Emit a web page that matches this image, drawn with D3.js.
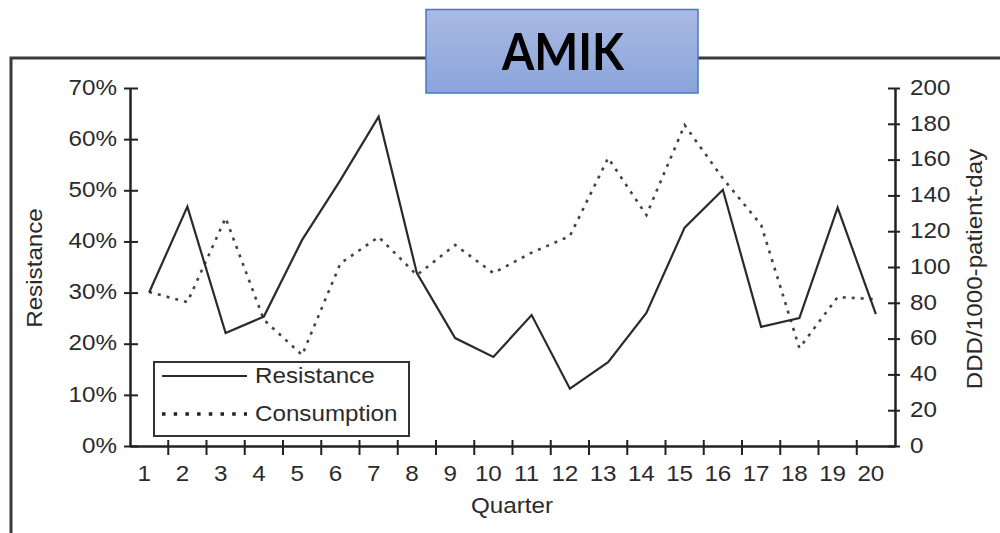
<!DOCTYPE html>
<html>
<head>
<meta charset="utf-8">
<script src="https://cdn.jsdelivr.net/npm/d3@7"></script>
<style>
  html, body { margin: 0; padding: 0; background: #fff; }
  svg { display: block; }
  text { font-family: "Liberation Sans", Arial, sans-serif; }
</style>
</head>
<body>
<svg id="chart" width="1000" height="533"></svg>
<script>
// ---- data ----
const quarters = [1,2,3,4,5,6,7,8,9,10,11,12,13,14,15,16,17,18,19,20];
const resistance = [30, 46.8, 22.1, 25.3, 40.3, 52, 64.4, 33.8, 21.1, 17.4, 25.6, 11.2, 16.4, 26, 42.7, 50.1, 23.3, 25, 46.6, 25.8];
const consumption = [86, 80.4, 127.4, 70.5, 50.8, 102, 116.8, 95.5, 112.3, 96.6, 108, 117.3, 160.9, 129, 179.3, 149.5, 123.5, 54.7, 83.2, 82];
const leftTicks = [0,10,20,30,40,50,60,70];
const rightTicks = [0,20,40,60,80,100,120,140,160,180,200];
const seriesNames = ["Resistance", "Consumption"];
const title = "AMIK";
const xTitle = "Quarter";
const yLeftTitle = "Resistance";
const yRightTitle = "DDD/1000-patient-day";

const svg = d3.select("#chart");
const SX = 1.1; // horizontal text stretch seen in the reference
const txtColor = "#2b2b2b";
const axColor = "#222";

const x = d3.scaleBand().domain(quarters).range([130, 895]).padding(0);
const yL = d3.scaleLinear().domain([0, 70]).range([446, 88]);
const yR = d3.scaleLinear().domain([0, 200]).range([446, 88]);

// frame
svg.append("path")
  .attr("d", "M11,533 L11,58 L1000,58")
  .attr("fill", "none").attr("stroke", "#3a3a3a").attr("stroke-width", 3);

// title box
const defs = svg.append("defs");
const grad = defs.append("linearGradient").attr("id", "tg").attr("x1", 0).attr("y1", 0).attr("x2", 0).attr("y2", 1);
grad.append("stop").attr("offset", "0%").attr("stop-color", "#aabae2");
grad.append("stop").attr("offset", "100%").attr("stop-color", "#8aa4da");
svg.append("rect").attr("x", 426).attr("y", 9.5).attr("width", 272).attr("height", 83.5)
  .attr("fill", "url(#tg)").attr("stroke", "#4a78c8").attr("stroke-width", 1.5);
svg.append("text").attr("x", 563).attr("y", 70).attr("text-anchor", "middle")
  .attr("font-family", "Lato, 'Open Sans', sans-serif").attr("font-weight", "bold")
  .attr("font-size", 51).attr("fill", "#000")
  .attr("textLength", 122).attr("lengthAdjust", "spacingAndGlyphs")
  .style("font-family", "Lato, 'Open Sans', sans-serif")
  .text(title);

// left axis
const gL = svg.append("g").attr("transform", "translate(130,0)")
  .call(d3.axisLeft(yL).tickValues(leftTicks).tickFormat(d => d + "%").tickSizeOuter(0));
gL.select(".domain").attr("stroke", axColor).attr("stroke-width", 2.5);
gL.selectAll(".tick line").attr("x1", -6).attr("x2", 8).attr("stroke", axColor).attr("stroke-width", 2);
gL.selectAll(".tick text").attr("x", 0).attr("dy", "0.33em")
  .attr("transform", `translate(-13,-1) scale(${SX},1)`)
  .attr("font-size", 22).attr("fill", txtColor).attr("font-family", null);

// right axis
const gR = svg.append("g").attr("transform", "translate(895,0)")
  .call(d3.axisRight(yR).tickValues(rightTicks).tickFormat(d3.format("d")).tickSizeOuter(0));
gR.select(".domain").attr("stroke", axColor).attr("stroke-width", 2.5);
gR.selectAll(".tick line").attr("x1", -7).attr("x2", 5).attr("stroke", axColor).attr("stroke-width", 2);
gR.selectAll(".tick text").attr("x", 0).attr("dy", "0.33em")
  .attr("transform", `translate(15,-1) scale(${SX},1)`)
  .attr("font-size", 22).attr("fill", txtColor).attr("font-family", null);

// bottom axis
const gB = svg.append("g").attr("transform", "translate(0,446)")
  .call(d3.axisBottom(x).tickSize(0).tickSizeOuter(0));
gB.select(".domain").attr("stroke", axColor).attr("stroke-width", 2.5);
gB.selectAll(".tick text").attr("y", 0).attr("dy", 0)
  .attr("transform", `translate(-5,35) scale(${SX},1)`)
  .attr("font-size", 22).attr("fill", txtColor).attr("font-family", null);
gB.selectAll(".boundary").data(quarters.slice(1)).enter().append("line")
  .attr("class", "boundary")
  .attr("x1", d => x(d)).attr("x2", d => x(d))
  .attr("y1", -6).attr("y2", 9)
  .attr("stroke", axColor).attr("stroke-width", 2);

// axis titles
svg.append("text").attr("transform", `translate(512,513) scale(${SX},1)`)
  .attr("text-anchor", "middle").attr("font-size", 22).attr("fill", txtColor).text(xTitle);
svg.append("text").attr("transform", `translate(42,268) rotate(-90) scale(${SX},1)`)
  .attr("text-anchor", "middle").attr("font-size", 22).attr("fill", txtColor).text(yLeftTitle);
svg.append("text").attr("transform", `translate(982,269) rotate(-90) scale(${SX},1)`)
  .attr("text-anchor", "middle").attr("font-size", 22).attr("fill", txtColor).text(yRightTitle);

// lines
const cx = d => x(d) + x.bandwidth() / 2;
const lineR = d3.line().x((d, i) => cx(quarters[i])).y(d => yL(d));
const lineC = d3.line().x((d, i) => cx(quarters[i])).y(d => yR(d));

svg.append("path").datum(consumption).attr("d", lineC)
  .attr("fill", "none").attr("stroke", "#444").attr("stroke-width", 2.6)
  .attr("stroke-dasharray", "3,6");
svg.append("path").datum(resistance).attr("d", lineR)
  .attr("fill", "none").attr("stroke", "#2a2a2a").attr("stroke-width", 2.2)
  .attr("stroke-linejoin", "miter");

// legend
const lg = svg.append("g");
lg.append("rect").attr("x", 154).attr("y", 362).attr("width", 255).attr("height", 74)
  .attr("fill", "#fff").attr("stroke", "#333").attr("stroke-width", 2);
const styles = [
  { dash: null, color: "#2a2a2a", w: 2.2 },
  { dash: "3.5,8.2", color: "#222", w: 3.5 }
];
seriesNames.forEach((name, i) => {
  const yy = 376 + i * 38;
  lg.append("line").attr("x1", 162).attr("x2", 247).attr("y1", yy).attr("y2", yy)
    .attr("stroke", styles[i].color).attr("stroke-width", styles[i].w)
    .attr("stroke-dasharray", styles[i].dash);
  lg.append("text").attr("transform", `translate(255,${yy + 7}) scale(${SX},1)`)
    .attr("font-size", 22).attr("fill", txtColor).text(name);
});
</script>
</body>
</html>
